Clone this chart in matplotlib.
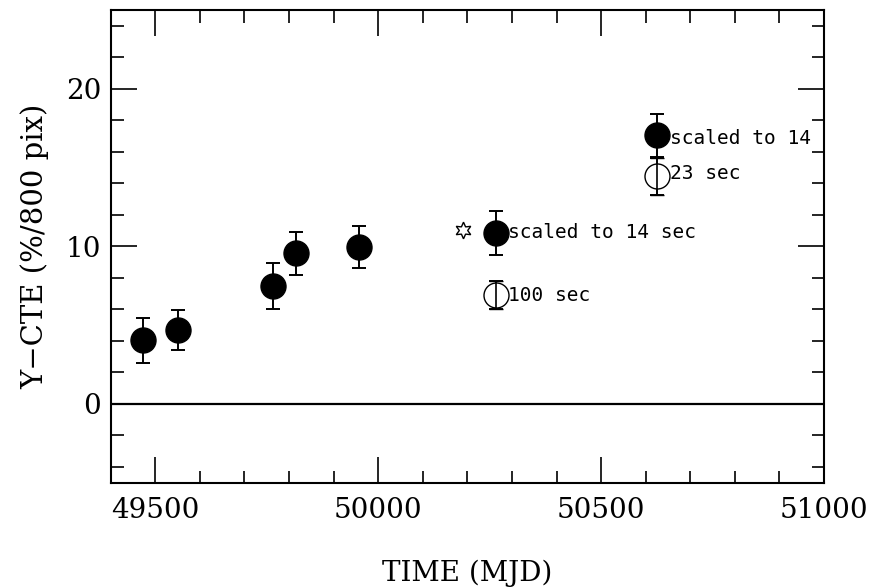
import numpy as np
import matplotlib
matplotlib.use("Agg")
import matplotlib.pyplot as plt
from matplotlib.ticker import MultipleLocator

# filled points (CTE measurements)
t_fill = [49472, 49550, 49763, 49815, 49957, 50264, 50626]
cte_fill = [4.05, 4.7, 7.5, 9.55, 9.95, 10.85, 17.05]
err_fill = [1.43, 1.25, 1.45, 1.38, 1.33, 1.42, 1.35]

# open points (other exposure times)
t_open = [50264, 50626]
cte_open = [6.9, 14.45]
err_open = [0.88, 1.17]

# star marker
t_star = [50191]
cte_star = [11.05]

labels = ["scaled to 14 sec", "100 sec", "scaled to 14", "23 sec"]
label_x = [50292, 50292, 50654, 50654]
label_y = [10.85, 6.9, 16.85, 14.6]

plt.rcParams["font.family"] = "DejaVu Serif"

fig = plt.figure(figsize=(8.72, 5.88), dpi=100)
ax = fig.add_axes([0.127, 0.179, 0.818, 0.804])

ax.axhline(0, color="black", lw=1.6, zorder=1)

ax.errorbar(t_fill, cte_fill, yerr=err_fill, fmt="o", color="black",
            ms=18, mfc="black", mec="black", ecolor="black",
            elinewidth=1.4, capsize=5, capthick=1.4, zorder=3)
ax.errorbar(t_open, cte_open, yerr=err_open, fmt="o", color="black",
            ms=18, mfc="white", mec="black", mew=1.0, ecolor="black",
            elinewidth=1.2, capsize=5, capthick=1.4, zorder=2)
# error bar line passes visibly through open circles
ax.errorbar(t_open, cte_open, yerr=err_open, fmt="none", ecolor="black",
            elinewidth=1.2, capsize=5, capthick=1.4, zorder=4)
ax.plot(t_star, cte_star, marker=(6, 1, 0), ms=12, mfc="white",
        mec="black", mew=1.0, ls="none", zorder=3)

for s, x, y in zip(labels, label_x, label_y):
    ax.text(x, y, s, fontsize=14, family="DejaVu Sans Mono",
            va="center", ha="left", clip_on=True)

ax.set_xlim(49400, 51000)
ax.set_ylim(-5, 25)
ax.xaxis.set_major_locator(MultipleLocator(500))
ax.xaxis.set_minor_locator(MultipleLocator(100))
ax.yaxis.set_major_locator(MultipleLocator(10))
ax.yaxis.set_minor_locator(MultipleLocator(2))
ax.tick_params(which="both", direction="in", top=True, right=True,
               width=1.2, labelsize=20)
ax.tick_params(which="major", length=19, pad=10)
ax.tick_params(axis="y", which="major", pad=7)
ax.tick_params(which="minor", length=9)
for sp in ax.spines.values():
    sp.set_linewidth(1.5)

ax.set_xlabel("TIME (MJD)", fontsize=20, labelpad=26)
ax.set_ylabel("Y\u2212CTE (%/800 pix)", fontsize=21, labelpad=12)

fig.savefig("out.png", dpi=100)
